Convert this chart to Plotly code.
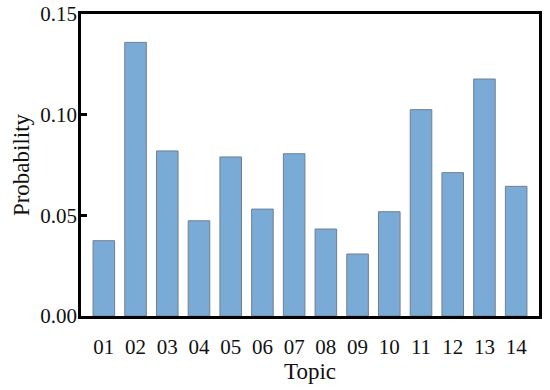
import plotly.graph_objects as go

topics = ["01", "02", "03", "04", "05", "06", "07", "08", "09", "10", "11", "12", "13", "14"]
probability = [0.0374, 0.1359, 0.0820, 0.0473, 0.0790, 0.0531, 0.0806,
               0.0432, 0.0308, 0.0518, 0.1025, 0.0712, 0.1177, 0.0644]
y_ticks = [0.00, 0.05, 0.10, 0.15]
y_tick_labels = ["0.00", "0.05", "0.10", "0.15"]

font_family = "Liberation Serif, Times New Roman, serif"

fig = go.Figure(go.Bar(
    x=topics,
    y=probability,
    width=0.68,
    marker=dict(color="#7aabd7", line=dict(color="#6f7f8f", width=1)),
))

fig.update_layout(
    width=550, height=390,
    margin=dict(l=81, r=11, t=14, b=74),
    paper_bgcolor="white", plot_bgcolor="white",
    font=dict(family=font_family, size=20, color="#111"),
    showlegend=False,
)
fig.update_xaxes(
    type="category",
    range=[-0.72, 13.72],
    automargin=False,
    showline=True, linecolor="black", linewidth=2.5, mirror=True,
    ticks="", showgrid=False,
    tickfont=dict(size=21),
    ticklabelstandoff=10,
    title=dict(text="Topic", font=dict(size=23), standoff=0),
)
fig.update_yaxes(
    range=[0, 0.15],
    automargin=False,
    tickvals=y_ticks, ticktext=y_tick_labels,
    showline=True, linecolor="black", linewidth=2.5, mirror=True,
    ticks="inside", ticklen=6, tickwidth=2.5, tickcolor="black",
    showgrid=False, zeroline=False,
    tickfont=dict(size=21),
    ticklabelstandoff=-3,
    title=dict(text="Probability", font=dict(size=23), standoff=5),
)

fig.write_html("out.html", config={"displayModeBar": False},
               post_script="document.body.style.margin='0';")
